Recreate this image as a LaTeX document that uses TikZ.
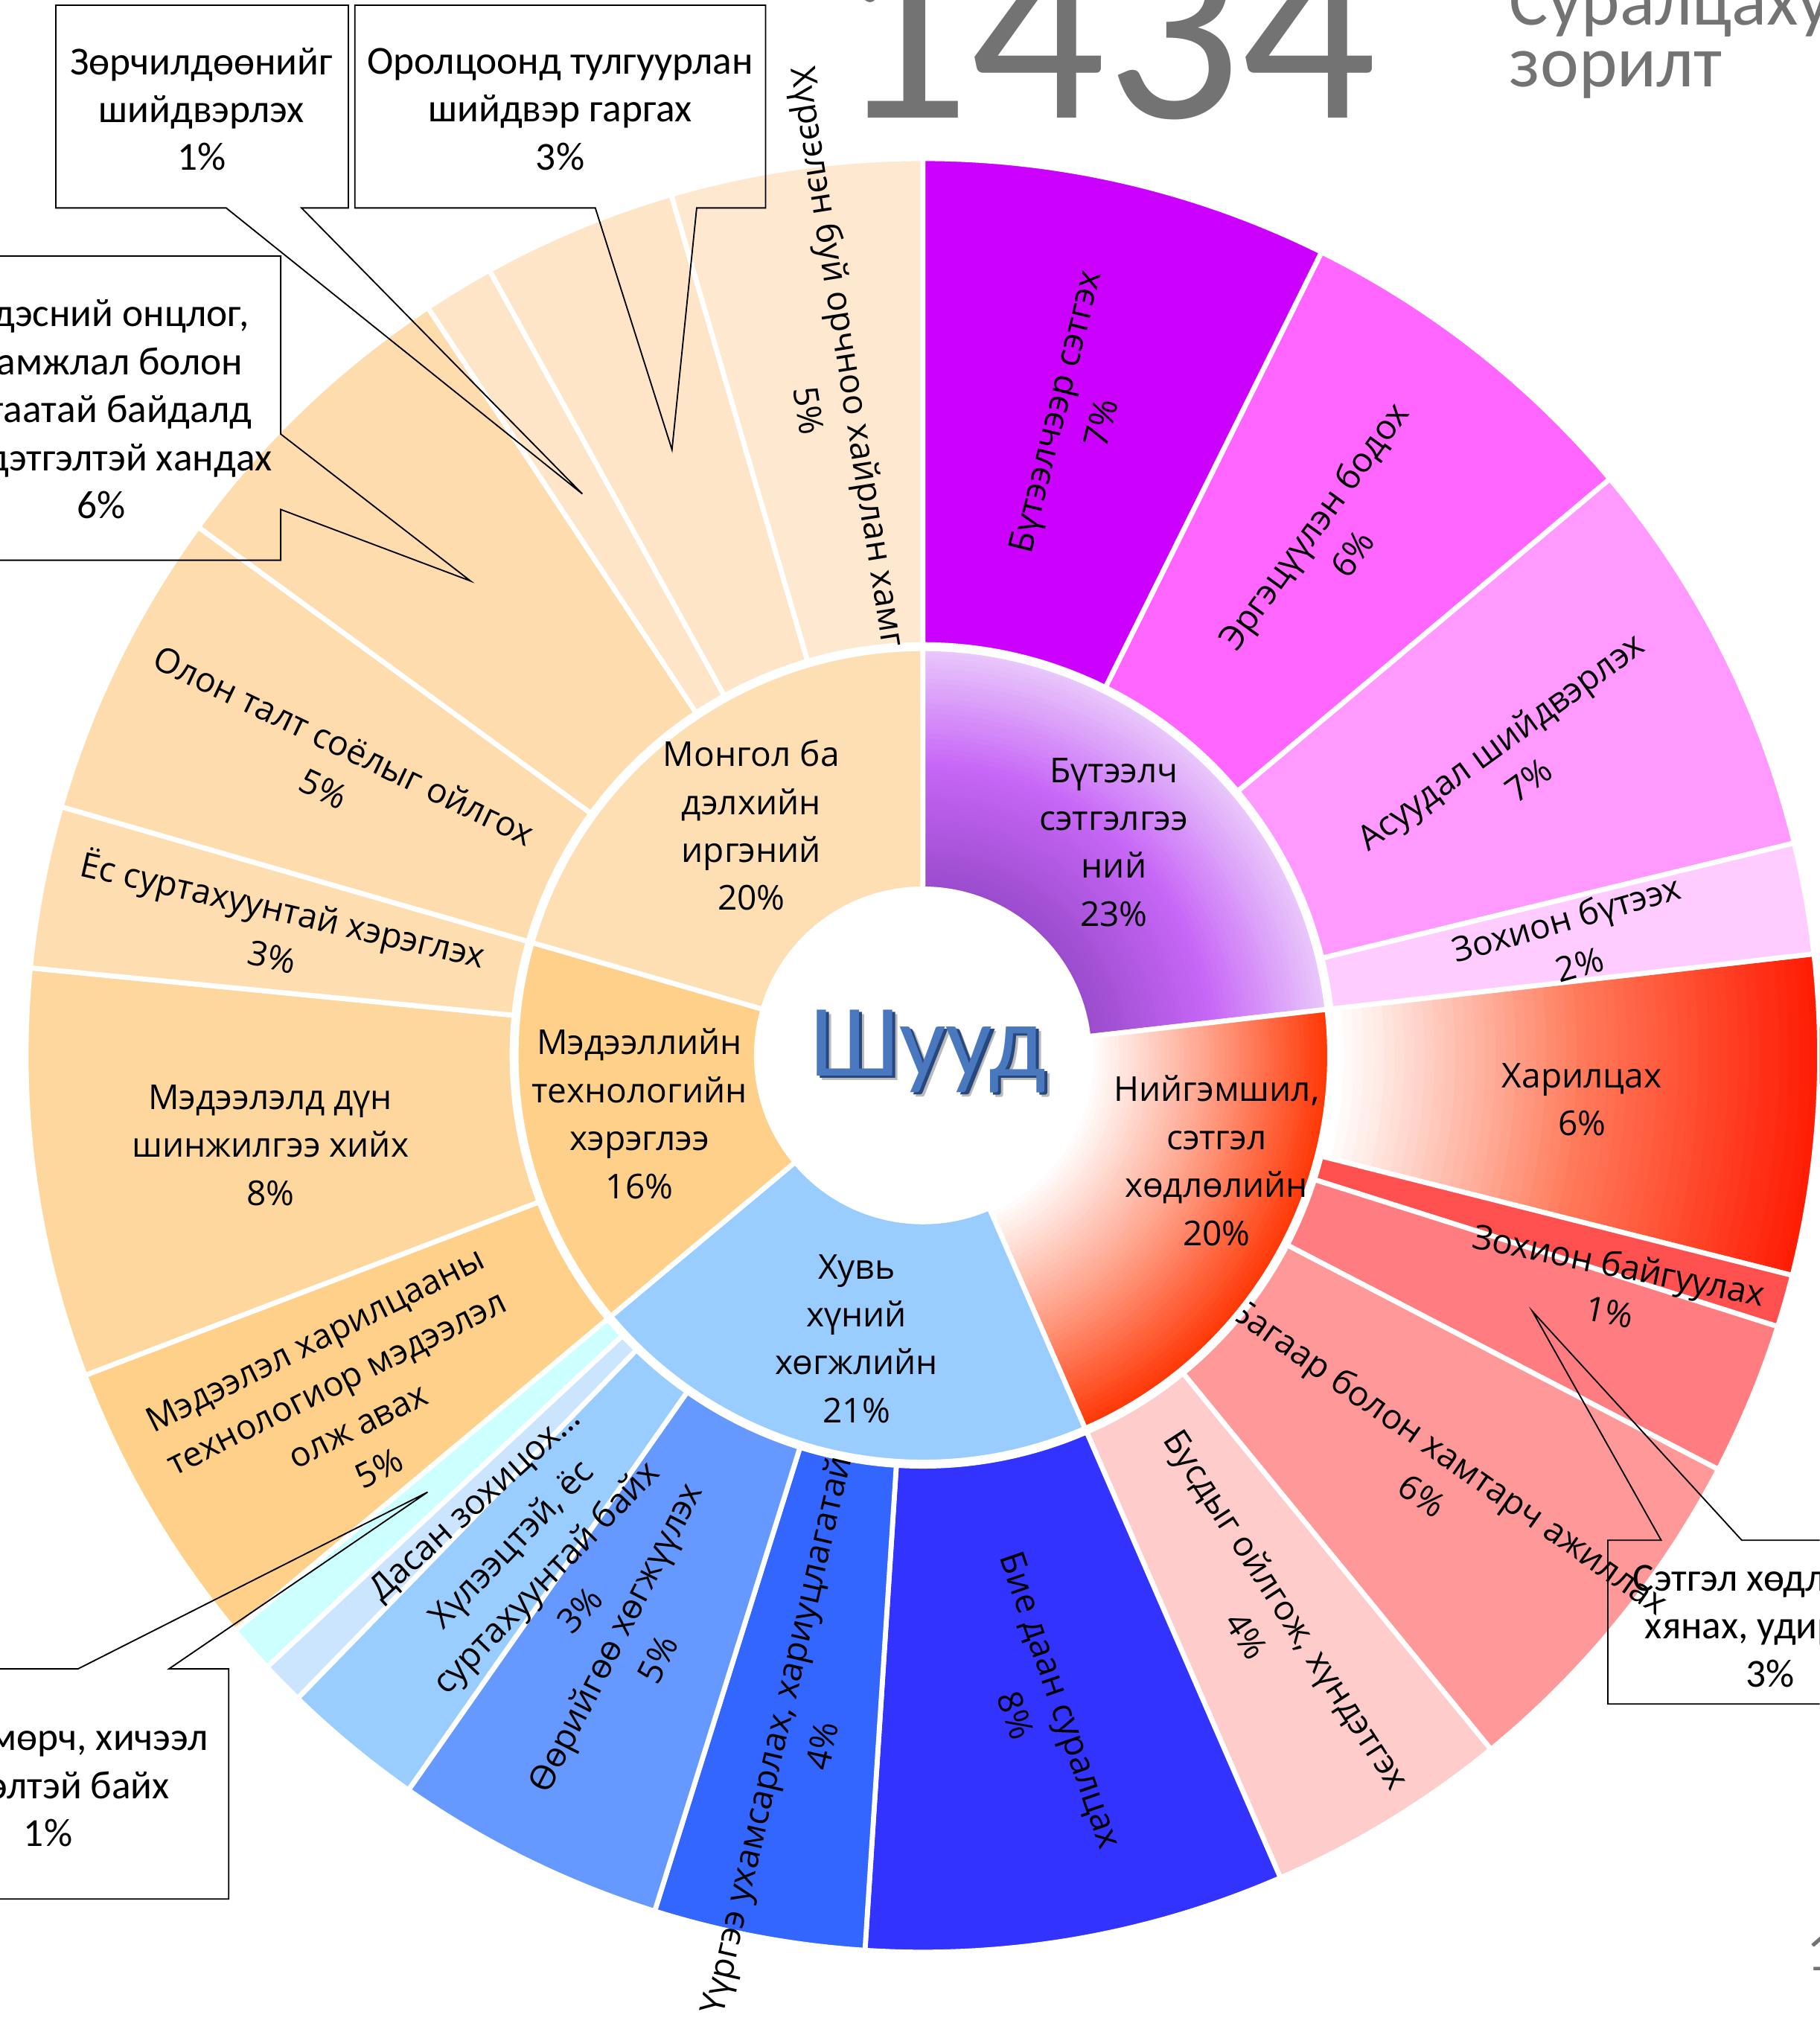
\documentclass[tikz,border=0pt]{standalone}
\usepackage{fontspec}
\setmainfont{Open Sans}
\newfontfamily\calibri{Carlito}

\definecolor{creaPur}{HTML}{CC00FF}
\definecolor{reflPink}{HTML}{FF66FF}
\definecolor{probPink}{HTML}{FF99FF}
\definecolor{inveLt}{HTML}{FFCCFF}
\definecolor{orgRed}{HTML}{FF5050}
\definecolor{emoRed}{HTML}{FF7C80}
\definecolor{teamRed}{HTML}{FF9999}
\definecolor{respLt}{HTML}{FFCCCC}
\definecolor{selfBlue}{HTML}{3333FF}
\definecolor{dutyBlue}{HTML}{3366FF}
\definecolor{growBlue}{HTML}{6699FF}
\definecolor{tolBlue}{HTML}{99CCFF}
\definecolor{adaptBlue}{HTML}{CCE5FF}
\definecolor{workCyan}{HTML}{CCFFFF}
\definecolor{persBlue}{HTML}{99CCFF}
\definecolor{itOrange}{HTML}{FED08A}
\definecolor{ictOrange}{HTML}{FED08A}
\definecolor{dataPeach}{HTML}{FDD79E}
\definecolor{ethPeach}{HTML}{FEDDB0}
\definecolor{multiPeach}{HTML}{FEDCAE}
\definecolor{natPeach}{HTML}{FEDCAE}
\definecolor{confPeach}{HTML}{FEE5C8}
\definecolor{partPeach}{HTML}{FEE5C8}
\definecolor{envPeach}{HTML}{FEE8D0}
\definecolor{civPeach}{HTML}{FEDFB4}
\definecolor{creaDark}{HTML}{9B4CCD}
\definecolor{creaMid}{HTML}{C766F7}
\definecolor{creaLight}{HTML}{EBCBFB}
\definecolor{socMid}{HTML}{FF9E85}
\definecolor{socRed}{HTML}{FF3300}
\definecolor{commMid}{HTML}{FF7A5A}
\definecolor{commRed}{HTML}{FF1800}
\definecolor{shuudBlue}{HTML}{4A78BE}
\definecolor{shuudDark}{HTML}{27487F}
\definecolor{titleGray}{HTML}{737373}

% ring piece: style, from, to (clockwise from 12 o'clock), inner and outer radius
\newcommand{\ringpart}[5]{%
  \path[#1] ({90-#2}:#4) arc[start angle={90-#2}, end angle={90-#3}, radius=#4]
    -- ({90-#3}:#5) arc[start angle={90-#3}, end angle={90-#2}, radius=#5] -- cycle;}
% same piece, shaded outwards in bands through three colours
\newcommand{\ringshade}[7]{%
  \foreach \k in {0,...,47}{%
    \pgfmathsetmacro{\rk}{#3+(#4-#3)*(\k/48)}%
    \pgfmathtruncatemacro{\pk}{\k<24 ? 100*\k/24 : 100*(\k-24)/24}%
    \ifnum\k<24 \colorlet{band}{#6!\pk!#5}\else\colorlet{band}{#7!\pk!#6}\fi
    \ringpart{fill=band}{#1}{#2}{\rk}{#4}}}

\begin{document}
\begin{tikzpicture}[x=0.02cm, y=0.02cm,
    lbl/.style={font=\fontsize{15}{21}\selectfont, align=center, inner sep=0pt},
    calltext/.style={font=\calibri\fontsize{17.4}{21}\selectfont, align=center, inner sep=0pt},
    callout/.style={draw=black, line width=0.6pt},
    gap/.style={draw=white, line width=2.2pt},
    direct/.style={font=\calibri\fontsize{45}{45}\selectfont, anchor=base, inner sep=0pt}]
\useasboundingbox (-710,-756) rectangle (690,812);
\clip (-710,-756) rectangle (690,812);

% outer ring
\ringshade{83.5}{104.2}{316}{690}{white}{commMid}{commRed}
\ringpart{gap}{83.5}{104.2}{316}{690}
\foreach \c/\a/\b in {creaPur/0/26.4, reflPink/26.4/50, probPink/50/76.3, inveLt/76.3/83.5,
    orgRed/104.2/107.6, emoRed/107.6/117.5, teamRed/117.5/140.7, respLt/140.7/156.5,
    selfBlue/156.5/183.7, dutyBlue/183.7/197.4, growBlue/197.4/215, tolBlue/215/224.2,
    adaptBlue/224.2/227, workCyan/227/230.1, ictOrange/230.1/249.1, dataPeach/249.1/275.6,
    ethPeach/275.6/286.1, multiPeach/286.1/306.1, natPeach/306.1/326.5,
    confPeach/326.5/331.1, partPeach/331.1/343.7, envPeach/343.7/360}
  {\ringpart{fill=\c, gap}{\a}{\b}{316}{690}}

\node[lbl, rotate=76] (crea) at (119,491) {Бүтээлчээр сэтгэх\\7\%};
\node[lbl, rotate=54] (refl) at (315,397) {Эргэцүүлэн бодох\\6\%};
\node[lbl, rotate=36] (prob) at (455,227) {Асуудал шийдвэрлэх\\7\%};
\node[lbl, rotate=16] (inve) at (500,88) {Зохион бүтээх\\2\%};
\node[lbl] (comm) at (507,-34) {Харилцах\\6\%};
\node[lbl, rotate=-11.5] (org) at (532,-179) {Зохион байгуулах\\1\%};
\node[lbl, rotate=-35] (team) at (395,-323) {Багаар болон хамтарч ажиллах\\6\%};
\node[lbl, rotate=-57] (resp) at (265,-436) {Бусдыг ойлгож, хүндэтгэх\\4\%};
\node[lbl, rotate=-71] (self) at (89,-502) {Бие даан суралцах\\8\%};
\node[lbl, rotate=77] (duty) at (-96,-527) {Үүргээ ухамсарлах, хариуцлагатай\\4\%};
\node[lbl, rotate=63] (grow) at (-221,-456) {Өөрийгөө хөгжүүлэх\\5\%};
\node[lbl, rotate=46] (tol) at (-291,-401) {Хүлээцтэй, ёс\\суртахуунтай байх\\3\%};
\node[lbl, rotate=42] (adapt) at (-344,-346) {Дасан зохицох…};
\node[lbl, rotate=26.5] (ict) at (-443,-268) {Мэдээлэл харилцааны\\технологиор мэдээлэл\\олж авах\\5\%};
\node[lbl] (data) at (-502,-69) {Мэдээлэлд дүн\\шинжилгээ хийх\\8\%};
\node[lbl, rotate=-13] (eth) at (-496,96) {Ёс суртахуунтай хэрэглэх\\3\%};
\node[lbl, rotate=-25.6] (multi) at (-453,222) {Олон талт соёлыг ойлгох\\5\%};
\node[lbl, rotate=-81] (env) at (-69,499) {Хүрээлэн буй орчноо хайрлан хамгаалах\\5\%};

% inner ring
\fill[white] (0,0) circle[radius=315];
\ringshade{0}{83.5}{128}{313}{creaDark}{creaMid}{creaLight}
\ringpart{gap}{0}{83.5}{128}{313}
\ringshade{83.5}{156.5}{128}{313}{white}{socMid}{socRed}
\ringpart{gap}{83.5}{156.5}{128}{313}
\foreach \c/\a/\b in {persBlue/156.5/230.1, itOrange/230.1/286.1, civPeach/286.1/360}
  {\ringpart{fill=\c, gap}{\a}{\b}{128}{313}}

\node[lbl] (civ) at (-132,177) {Монгол ба\\дэлхийн\\иргэний\\20\%};
\node[lbl] (creaIn) at (147,164) {Бүтээлч\\сэтгэлгээ\\ний\\23\%};
\node[lbl] (soc) at (226,-81) {Нийгэмшил,\\сэтгэл\\хөдлөлийн\\20\%};
\node[lbl] (pers) at (-51,-218) {Хувь\\хүний\\хөгжлийн\\21\%};
\node[lbl] (it) at (-218,-45) {Мэдээллийн\\технологийн\\хэрэглээ\\16\%};

\node[direct, text=black!45, opacity=.6] (directShadow) at (8,-19.5) {Шууд};
\node[direct, text=shuudDark] (directEdge) at (6.5,-17.5) {Шууд};
\node[direct, text=shuudBlue] (directText) at (4,-16) {Шууд};

% callouts
\coordinate (tipConf) at (-262,432);
\coordinate (tipPart) at (-193,466);
\coordinate (tipNat) at (-348,365);
\coordinate (tipWork) at (-381,-336);
\coordinate (tipEmo) at (469,-197);
\draw[callout] (-667,808) -- (-442,808) -- (-442,652) -- (-478,652) -- (tipConf)
  -- (-536,652) -- (-667,652) -- cycle;
\draw[callout] (-437,808) -- (-121,808) -- (-121,652) -- (-174,652) -- (tipPart)
  -- (-252,652) -- (-437,652) -- cycle;
\draw[callout] (-760,615) -- (-494,615) -- (-494,478) -- (tipNat) -- (-494,420)
  -- (-494,381) -- (-760,381) -- cycle;
\draw[callout] (-760,-472) -- (-650,-472) -- (tipWork) -- (-580,-472) -- (-534,-472)
  -- (-534,-649) -- (-760,-649) -- cycle;
\draw[callout] (527,-373) -- (568,-373) -- (tipEmo) -- (630,-373) -- (760,-373)
  -- (760,-499) -- (527,-499) -- cycle;
\node[calltext] (conf) at (-555,728) {Зөрчилдөөнийг\\шийдвэрлэх\\1\%};
\node[calltext] (part) at (-279,728) {Оролцоонд тулгуурлан\\шийдвэр гаргах\\3\%};
\node[calltext] (nat) at (-632,497) {Үндэсний онцлог,\\уламжлал болон\\ялгаатай байдалд\\хүндэтгэлтэй хандах\\6\%};
\node[calltext] (work) at (-673,-562) {Хөдөлмөрч, хичээл\\зүтгэлтэй байх\\1\%};
\node[calltext] (emo) at (652,-439) {Сэтгэл хөдлөлөө\\хянах, удирдах\\3\%};

% title
\node[anchor=base west, inner sep=0pt, text=titleGray, font=\calibri\fontsize{117}{117}\selectfont] (count) at (-68,721) {1434};
\node[anchor=base west, inner sep=0pt, text=titleGray, font=\calibri\fontsize{32}{32}\selectfont] (goalA) at (451,793) {Суралцахуйн};
\node[anchor=base west, inner sep=0pt, text=titleGray, font=\calibri\fontsize{32}{32}\selectfont] (goalB) at (451,745) {зорилт};
\node[anchor=base west, inner sep=0pt, text=titleGray, font=\calibri\fontsize{24}{24}\selectfont] (page) at (680,-704) {1};
\end{tikzpicture}
\end{document}
